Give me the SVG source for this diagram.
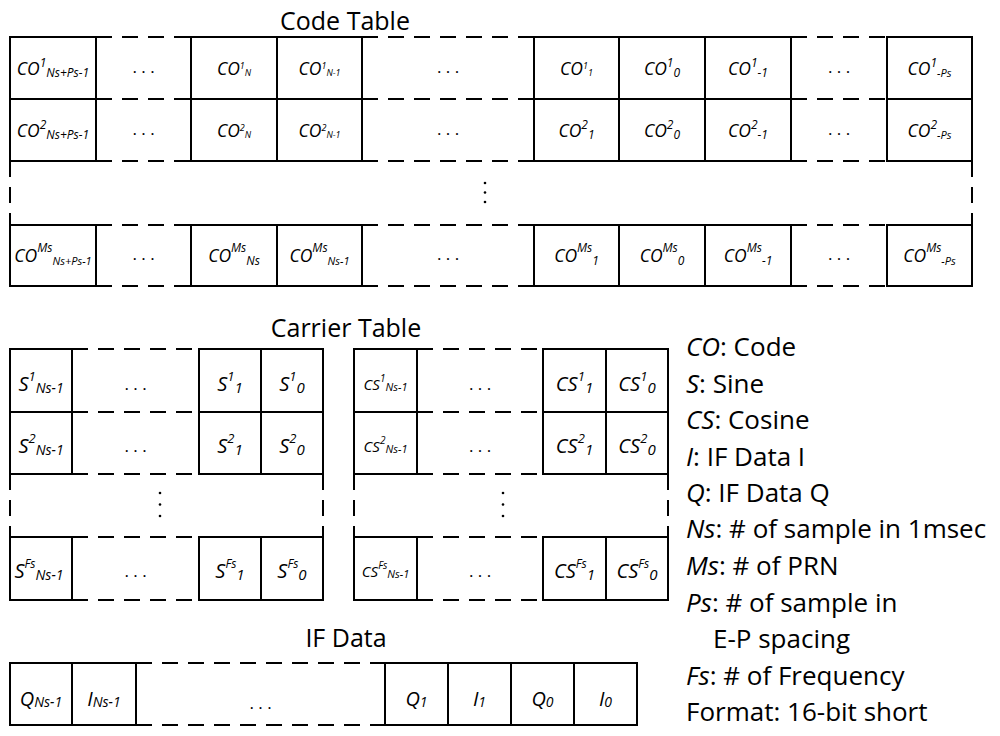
<svg xmlns="http://www.w3.org/2000/svg" width="1000" height="736" viewBox="0 0 1000 736">
<style>
.bg{fill:#fff}
.cell{fill:#fff;stroke:#000;stroke-width:2}
.dash{fill:none;stroke:#000;stroke-width:2;stroke-dasharray:16 10}
.t{font-family:"Open Sans","Liberation Sans",sans-serif;font-style:italic;text-anchor:middle;fill:#000;font-size:17.5px}
.sc{font-size:20px}
.cs{font-size:15px}
.q{font-size:20px}
.s13{font-size:13px}
.s14{font-size:14px}
.s15{font-size:15px}
.s12{font-size:12px}
.s11{font-size:11px}
.s10{font-size:10px}
.s9{font-size:9px}
.dots{font-family:"Open Sans","Liberation Sans",sans-serif;font-size:17px;text-anchor:middle;fill:#000}
.title{font-family:"Open Sans","Liberation Sans",sans-serif;font-size:25px;text-anchor:middle;fill:#000}
.leg{font-family:"Open Sans","Liberation Sans",sans-serif;font-size:26px;fill:#000}
.it{font-style:italic}
.vd{fill:#000}
</style>
<rect class="bg" x="0" y="0" width="1000" height="736"/>

<!-- ===== Code Table ===== -->
<text class="title" x="345" y="30">Code Table</text>
<g id="code-dashed">
  <line class="dash" x1="96" y1="37" x2="191" y2="37"/>
  <line class="dash" x1="362" y1="37" x2="534" y2="37"/>
  <line class="dash" x1="791" y1="37" x2="887" y2="37"/>
  <line class="dash" x1="96" y1="99" x2="191" y2="99"/>
  <line class="dash" x1="362" y1="99" x2="534" y2="99"/>
  <line class="dash" x1="791" y1="99" x2="887" y2="99"/>
  <line class="dash" x1="96" y1="161" x2="191" y2="161"/>
  <line class="dash" x1="362" y1="161" x2="534" y2="161"/>
  <line class="dash" x1="791" y1="161" x2="887" y2="161"/>
  <line class="dash" x1="96" y1="225" x2="191" y2="225"/>
  <line class="dash" x1="362" y1="225" x2="534" y2="225"/>
  <line class="dash" x1="791" y1="225" x2="887" y2="225"/>
  <line class="dash" x1="96" y1="286" x2="191" y2="286"/>
  <line class="dash" x1="362" y1="286" x2="534" y2="286"/>
  <line class="dash" x1="791" y1="286" x2="887" y2="286"/>
  <line class="dash" x1="10" y1="161" x2="10" y2="225"/>
  <line class="dash" x1="972" y1="161" x2="972" y2="225"/>
  <line class="dash" x1="10" y1="161" x2="96" y2="161"/>
  <line class="dash" x1="887" y1="161" x2="972" y2="161"/>
</g>
<g id="code-row1">
  <g id="co1-a"><rect class="cell" x="10" y="37" width="86" height="62"/><text class="t" x="53" y="75"><tspan>CO</tspan><tspan class="s12" dy="-8">1</tspan><tspan class="s12" dy="10">Ns+Ps-1</tspan></text></g>
  <g id="co1-dots1"><text class="dots" x="143.5" y="73">. . .</text></g>
  <g id="co1-b"><rect class="cell" x="191" y="37" width="86" height="62"/><text class="t" x="234" y="75"><tspan>CO</tspan><tspan class="s9" dy="-6">1</tspan><tspan class="s9" dy="7">N</tspan></text></g>
  <g id="co1-c"><rect class="cell" x="277" y="37" width="85" height="62"/><text class="t" x="319.5" y="75"><tspan>CO</tspan><tspan class="s9" dy="-6">1</tspan><tspan class="s9" dy="7">N-1</tspan></text></g>
  <g id="co1-dots2"><text class="dots" x="448" y="73">. . .</text></g>
  <g id="co1-d"><rect class="cell" x="534" y="37" width="85" height="62"/><text class="t" x="576.5" y="75"><tspan>CO</tspan><tspan class="s9" dy="-6">1</tspan><tspan class="s9" dy="7">1</tspan></text></g>
  <g id="co1-e"><rect class="cell" x="619" y="37" width="86" height="62"/><text class="t" x="662" y="75"><tspan>CO</tspan><tspan class="s12" dy="-8">1</tspan><tspan class="s12" dy="10">0</tspan></text></g>
  <g id="co1-f"><rect class="cell" x="705" y="37" width="86" height="62"/><text class="t" x="748" y="75"><tspan>CO</tspan><tspan class="s12" dy="-8">1</tspan><tspan class="s12" dy="10">-1</tspan></text></g>
  <g id="co1-dots3"><text class="dots" x="839" y="73">. . .</text></g>
  <g id="co1-g"><rect class="cell" x="887" y="37" width="85" height="62"/><text class="t" x="929.5" y="75"><tspan>CO</tspan><tspan class="s12" dy="-8">1</tspan><tspan class="s11" dy="10">-Ps</tspan></text></g>
</g>
<g id="code-row2">
  <g id="co2-a"><rect class="cell" x="10" y="99" width="86" height="62"/><text class="t" x="53" y="137"><tspan>CO</tspan><tspan class="s12" dy="-8">2</tspan><tspan class="s12" dy="10">Ns+Ps-1</tspan></text></g>
  <g id="co2-dots1"><text class="dots" x="143.5" y="135">. . .</text></g>
  <g id="co2-b"><rect class="cell" x="191" y="99" width="86" height="62"/><text class="t" x="234" y="137"><tspan>CO</tspan><tspan class="s9" dy="-6">2</tspan><tspan class="s9" dy="7">N</tspan></text></g>
  <g id="co2-c"><rect class="cell" x="277" y="99" width="85" height="62"/><text class="t" x="319.5" y="137"><tspan>CO</tspan><tspan class="s9" dy="-6">2</tspan><tspan class="s9" dy="7">N-1</tspan></text></g>
  <g id="co2-dots2"><text class="dots" x="448" y="135">. . .</text></g>
  <g id="co2-d"><rect class="cell" x="534" y="99" width="85" height="62"/><text class="t" x="576.5" y="137"><tspan>CO</tspan><tspan class="s12" dy="-8">2</tspan><tspan class="s12" dy="10">1</tspan></text></g>
  <g id="co2-e"><rect class="cell" x="619" y="99" width="86" height="62"/><text class="t" x="662" y="137"><tspan>CO</tspan><tspan class="s12" dy="-8">2</tspan><tspan class="s12" dy="10">0</tspan></text></g>
  <g id="co2-f"><rect class="cell" x="705" y="99" width="86" height="62"/><text class="t" x="748" y="137"><tspan>CO</tspan><tspan class="s12" dy="-8">2</tspan><tspan class="s12" dy="10">-1</tspan></text></g>
  <g id="co2-dots3"><text class="dots" x="839" y="135">. . .</text></g>
  <g id="co2-g"><rect class="cell" x="887" y="99" width="85" height="62"/><text class="t" x="929.5" y="137"><tspan>CO</tspan><tspan class="s12" dy="-8">2</tspan><tspan class="s11" dy="10">-Ps</tspan></text></g>
</g>
<g id="code-vdots">
  <circle class="vd" cx="485" cy="183" r="1.3"/>
  <circle class="vd" cx="485" cy="192.5" r="1.3"/>
  <circle class="vd" cx="485" cy="202" r="1.3"/>
</g>
<g id="code-rowMs">
  <g id="coM-a"><rect class="cell" x="10" y="225" width="86" height="61"/><text class="t" x="53" y="262"><tspan>CO</tspan><tspan class="s12" dy="-10">Ms</tspan><tspan class="s11" dy="13">Ns+Ps-1</tspan></text></g>
  <g id="coM-dots1"><text class="dots" x="143.5" y="260">. . .</text></g>
  <g id="coM-b"><rect class="cell" x="191" y="225" width="86" height="61"/><text class="t" x="234" y="262"><tspan>CO</tspan><tspan class="s12" dy="-10">Ms</tspan><tspan class="s12" dy="13">Ns</tspan></text></g>
  <g id="coM-c"><rect class="cell" x="277" y="225" width="85" height="61"/><text class="t" x="319.5" y="262"><tspan>CO</tspan><tspan class="s12" dy="-10">Ms</tspan><tspan class="s11" dy="13">Ns-1</tspan></text></g>
  <g id="coM-dots2"><text class="dots" x="448" y="260">. . .</text></g>
  <g id="coM-d"><rect class="cell" x="534" y="225" width="85" height="61"/><text class="t" x="576.5" y="262"><tspan>CO</tspan><tspan class="s12" dy="-10">Ms</tspan><tspan class="s12" dy="13">1</tspan></text></g>
  <g id="coM-e"><rect class="cell" x="619" y="225" width="86" height="61"/><text class="t" x="662" y="262"><tspan>CO</tspan><tspan class="s12" dy="-10">Ms</tspan><tspan class="s12" dy="13">0</tspan></text></g>
  <g id="coM-f"><rect class="cell" x="705" y="225" width="86" height="61"/><text class="t" x="748" y="262"><tspan>CO</tspan><tspan class="s12" dy="-10">Ms</tspan><tspan class="s12" dy="13">-1</tspan></text></g>
  <g id="coM-dots3"><text class="dots" x="839" y="260">. . .</text></g>
  <g id="coM-g"><rect class="cell" x="887" y="225" width="85" height="61"/><text class="t" x="929.5" y="262"><tspan>CO</tspan><tspan class="s12" dy="-10">Ms</tspan><tspan class="s11" dy="13">-Ps</tspan></text></g>
</g>

<!-- ===== Carrier Table ===== -->
<text class="title" x="346" y="337">Carrier Table</text>
<g id="sine-dashed">
  <line class="dash" x1="72" y1="349" x2="199" y2="349"/>
  <line class="dash" x1="72" y1="412" x2="199" y2="412"/>
  <line class="dash" x1="72" y1="474" x2="199" y2="474"/>
  <line class="dash" x1="72" y1="537" x2="199" y2="537"/>
  <line class="dash" x1="72" y1="600" x2="199" y2="600"/>
  <line class="dash" x1="10" y1="474" x2="10" y2="537"/>
  <line class="dash" x1="323" y1="474" x2="323" y2="537"/>
</g>
<g id="sine-row1">
  <g id="s1-a"><rect class="cell" x="10" y="349" width="62" height="63"/><text class="t sc" x="41" y="391"><tspan>S</tspan><tspan class="s13" dy="-10">1</tspan><tspan class="s14" dy="12">Ns-1</tspan></text></g>
  <g id="s1-dots"><text class="dots" x="135.5" y="390">. . .</text></g>
  <g id="s1-b"><rect class="cell" x="199" y="349" width="62" height="63"/><text class="t sc" x="230" y="391"><tspan>S</tspan><tspan class="s13" dy="-10">1</tspan><tspan class="s15" dy="12">1</tspan></text></g>
  <g id="s1-c"><rect class="cell" x="261" y="349" width="62" height="63"/><text class="t sc" x="292" y="391"><tspan>S</tspan><tspan class="s13" dy="-10">1</tspan><tspan class="s15" dy="12">0</tspan></text></g>
</g>
<g id="sine-row2">
  <g id="s2-a"><rect class="cell" x="10" y="412" width="62" height="62"/><text class="t sc" x="41" y="453"><tspan>S</tspan><tspan class="s13" dy="-10">2</tspan><tspan class="s14" dy="12">Ns-1</tspan></text></g>
  <g id="s2-dots"><text class="dots" x="135.5" y="452">. . .</text></g>
  <g id="s2-b"><rect class="cell" x="199" y="412" width="62" height="62"/><text class="t sc" x="230" y="453"><tspan>S</tspan><tspan class="s13" dy="-10">2</tspan><tspan class="s15" dy="12">1</tspan></text></g>
  <g id="s2-c"><rect class="cell" x="261" y="412" width="62" height="62"/><text class="t sc" x="292" y="453"><tspan>S</tspan><tspan class="s13" dy="-10">2</tspan><tspan class="s15" dy="12">0</tspan></text></g>
</g>
<g id="sine-vdots">
  <circle class="vd" cx="160" cy="493" r="1.3"/>
  <circle class="vd" cx="160" cy="504.5" r="1.3"/>
  <circle class="vd" cx="160" cy="516" r="1.3"/>
</g>
<g id="sine-rowFs">
  <g id="sF-a"><rect class="cell" x="10" y="537" width="62" height="63"/><text class="t sc" x="39" y="578"><tspan>S</tspan><tspan class="s12" dy="-10">Fs</tspan><tspan class="s14" dy="12">Ns-1</tspan></text></g>
  <g id="sF-dots"><text class="dots" x="135.5" y="577">. . .</text></g>
  <g id="sF-b"><rect class="cell" x="199" y="537" width="62" height="63"/><text class="t sc" x="230" y="578"><tspan>S</tspan><tspan class="s12" dy="-10">Fs</tspan><tspan class="s15" dy="12">1</tspan></text></g>
  <g id="sF-c"><rect class="cell" x="261" y="537" width="62" height="63"/><text class="t sc" x="292" y="578"><tspan>S</tspan><tspan class="s12" dy="-10">Fs</tspan><tspan class="s15" dy="12">0</tspan></text></g>
</g>

<g id="cosine-dashed">
  <line class="dash" x1="417" y1="349" x2="543" y2="349"/>
  <line class="dash" x1="417" y1="412" x2="543" y2="412"/>
  <line class="dash" x1="417" y1="474" x2="543" y2="474"/>
  <line class="dash" x1="417" y1="537" x2="543" y2="537"/>
  <line class="dash" x1="417" y1="600" x2="543" y2="600"/>
  <line class="dash" x1="354" y1="474" x2="354" y2="537"/>
  <line class="dash" x1="668" y1="474" x2="668" y2="537"/>
</g>
<g id="cosine-row1">
  <g id="cs1-a"><rect class="cell" x="354" y="349" width="63" height="63"/><text class="t cs" x="385.5" y="390"><tspan>CS</tspan><tspan class="s10" dy="-8">1</tspan><tspan class="s11" dy="9">Ns-1</tspan></text></g>
  <g id="cs1-dots"><text class="dots" x="480" y="390">. . .</text></g>
  <g id="cs1-b"><rect class="cell" x="543" y="349" width="63" height="63"/><text class="t sc" x="574.5" y="391"><tspan>CS</tspan><tspan class="s13" dy="-10">1</tspan><tspan class="s15" dy="12">1</tspan></text></g>
  <g id="cs1-c"><rect class="cell" x="606" y="349" width="62" height="63"/><text class="t sc" x="637" y="391"><tspan>CS</tspan><tspan class="s13" dy="-10">1</tspan><tspan class="s15" dy="12">0</tspan></text></g>
</g>
<g id="cosine-row2">
  <g id="cs2-a"><rect class="cell" x="354" y="412" width="63" height="62"/><text class="t cs" x="385.5" y="452"><tspan>CS</tspan><tspan class="s10" dy="-8">2</tspan><tspan class="s11" dy="9">Ns-1</tspan></text></g>
  <g id="cs2-dots"><text class="dots" x="480" y="452">. . .</text></g>
  <g id="cs2-b"><rect class="cell" x="543" y="412" width="63" height="62"/><text class="t sc" x="574.5" y="453"><tspan>CS</tspan><tspan class="s13" dy="-10">2</tspan><tspan class="s15" dy="12">1</tspan></text></g>
  <g id="cs2-c"><rect class="cell" x="606" y="412" width="62" height="62"/><text class="t sc" x="637" y="453"><tspan>CS</tspan><tspan class="s13" dy="-10">2</tspan><tspan class="s15" dy="12">0</tspan></text></g>
</g>
<g id="cosine-vdots">
  <circle class="vd" cx="503" cy="493" r="1.3"/>
  <circle class="vd" cx="503" cy="504.5" r="1.3"/>
  <circle class="vd" cx="503" cy="516" r="1.3"/>
</g>
<g id="cosine-rowFs">
  <g id="csF-a"><rect class="cell" x="354" y="537" width="63" height="63"/><text class="t cs" x="385.5" y="577"><tspan>CS</tspan><tspan class="s10" dy="-8">Fs</tspan><tspan class="s11" dy="9">Ns-1</tspan></text></g>
  <g id="csF-dots"><text class="dots" x="480" y="577">. . .</text></g>
  <g id="csF-b"><rect class="cell" x="543" y="537" width="63" height="63"/><text class="t sc" x="574.5" y="578"><tspan>CS</tspan><tspan class="s12" dy="-10">Fs</tspan><tspan class="s15" dy="12">1</tspan></text></g>
  <g id="csF-c"><rect class="cell" x="606" y="537" width="62" height="63"/><text class="t sc" x="637" y="578"><tspan>CS</tspan><tspan class="s12" dy="-10">Fs</tspan><tspan class="s15" dy="12">0</tspan></text></g>
</g>

<!-- ===== IF Data ===== -->
<text class="title" x="346" y="647">IF Data</text>
<g id="if-dashed">
  <line class="dash" x1="136" y1="663" x2="385" y2="663"/>
  <line class="dash" x1="136" y1="725" x2="385" y2="725"/>
</g>
<g id="if-row">
  <g id="if-qn"><rect class="cell" x="10" y="663" width="62" height="62"/><text class="t q" x="41" y="706"><tspan>Q</tspan><tspan class="s14" dy="1">Ns-1</tspan></text></g>
  <g id="if-in"><rect class="cell" x="72" y="663" width="64" height="62"/><text class="t q" x="104" y="706"><tspan>I</tspan><tspan class="s14" dy="1">Ns-1</tspan></text></g>
  <g id="if-dots"><text class="dots" x="260.5" y="709">. . .</text></g>
  <g id="if-q1"><rect class="cell" x="385" y="663" width="63" height="62"/><text class="t q" x="416.5" y="706"><tspan>Q</tspan><tspan class="s14" dy="1">1</tspan></text></g>
  <g id="if-i1"><rect class="cell" x="448" y="663" width="63" height="62"/><text class="t q" x="479.5" y="706"><tspan>I</tspan><tspan class="s14" dy="1">1</tspan></text></g>
  <g id="if-q0"><rect class="cell" x="511" y="663" width="63" height="62"/><text class="t q" x="542.5" y="706"><tspan>Q</tspan><tspan class="s14" dy="1">0</tspan></text></g>
  <g id="if-i0"><rect class="cell" x="574" y="663" width="63" height="62"/><text class="t q" x="605.5" y="706"><tspan>I</tspan><tspan class="s14" dy="1">0</tspan></text></g>
</g>

<!-- ===== Legend ===== -->
<g id="legend">
  <text class="leg" x="686" y="356"><tspan class="it">CO</tspan>: Code</text>
  <text class="leg" x="686" y="392.5"><tspan class="it">S</tspan>: Sine</text>
  <text class="leg" x="686" y="429"><tspan class="it">CS</tspan>: Cosine</text>
  <text class="leg" x="686" y="465.5"><tspan class="it">I</tspan>: IF Data I</text>
  <text class="leg" x="686" y="502"><tspan class="it">Q</tspan>: IF Data Q</text>
  <text class="leg" x="686" y="538"><tspan class="it">Ns</tspan>: # of sample in 1msec</text>
  <text class="leg" x="686" y="575"><tspan class="it">Ms</tspan>: # of PRN</text>
  <text class="leg" x="686" y="611.5"><tspan class="it">Ps</tspan>: # of sample in</text>
  <text class="leg" x="713" y="648">E-P spacing</text>
  <text class="leg" x="686" y="684.5"><tspan class="it">Fs</tspan>: # of Frequency</text>
  <text class="leg" x="686" y="721">Format: 16-bit short</text>
</g>
<g id="connectors"/>
</svg>
